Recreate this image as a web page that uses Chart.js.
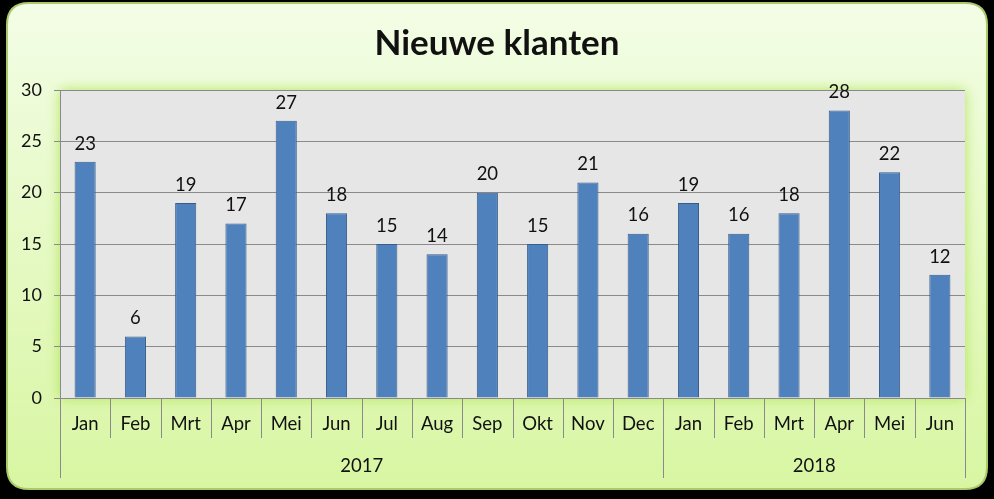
<!DOCTYPE html>
<html>
<head>
<meta charset="utf-8">
<script src="https://cdn.jsdelivr.net/npm/chart.js@4"></script>
<style>
  html, body { margin: 0; padding: 0; background: #000; }
  #wrap { width: 994px; height: 499px; }
</style>
</head>
<body>
<div id="wrap"><canvas id="chart" width="994" height="499"></canvas></div>
<script>
// data
var months = ['Jan','Feb','Mrt','Apr','Mei','Jun','Jul','Aug','Sep','Okt','Nov','Dec',
              'Jan','Feb','Mrt','Apr','Mei','Jun'];
var years = ['2017', '2018'];
var yearCounts = [12, 6];
var klanten = [23, 6, 19, 17, 27, 18, 15, 14, 20, 15, 21, 16,
               19, 16, 18, 28, 22, 12];
var yTicks = [0, 5, 10, 15, 20, 25, 30];
var titel = 'Nieuwe klanten';

var FONT = 'Lato, "Open Sans", sans-serif';

function roundRect(ctx, x, y, w, h, r) {
	ctx.beginPath();
	ctx.moveTo(x + r, y);
	ctx.lineTo(x + w - r, y);
	ctx.quadraticCurveTo(x + w, y, x + w, y + r);
	ctx.lineTo(x + w, y + h - r);
	ctx.quadraticCurveTo(x + w, y + h, x + w - r, y + h);
	ctx.lineTo(x + r, y + h);
	ctx.quadraticCurveTo(x, y + h, x, y + h - r);
	ctx.lineTo(x, y + r);
	ctx.quadraticCurveTo(x, y, x + r, y);
	ctx.closePath();
}

// card background + grey plot area with green glow
var backgroundPlugin = {
	id: 'cardBg',
	beforeDraw: function(chart) {
		var ctx = chart.ctx;
		var a = chart.chartArea;
		ctx.save();
		ctx.fillStyle = '#000';
		ctx.fillRect(0, 0, chart.width, chart.height);
		var g = ctx.createLinearGradient(0, 3, 0, 490);
		g.addColorStop(0, '#f3fde6');
		g.addColorStop(1, '#d8f6a2');
		roundRect(ctx, 7, 3, 980, 486, 22);
		ctx.fillStyle = g;
		ctx.fill();
		ctx.lineWidth = 2;
		ctx.strokeStyle = '#a9c96a';
		ctx.stroke();

		ctx.shadowColor = 'rgba(170,225,80,0.9)';
		ctx.shadowBlur = 12;
		ctx.fillStyle = '#e6e6e6';
		ctx.fillRect(a.left, a.top, a.right - a.left, a.bottom - a.top);
		ctx.restore();
	}
};

// title, value labels, category separators and year row
var labelsPlugin = {
	id: 'extraLabels',
	afterDraw: function(chart) {
		var ctx = chart.ctx;
		var a = chart.chartArea;
		var meta = chart.getDatasetMeta(0);
		ctx.save();
		ctx.fillStyle = '#111';
		ctx.textAlign = 'center';
		ctx.textBaseline = 'middle';
		ctx.font = 'bold 35px ' + FONT;
		ctx.fillText(titel, 497, 44);

		ctx.font = '18.5px ' + FONT;
		ctx.textBaseline = 'bottom';
		meta.data.forEach(function(bar, i) {
			ctx.fillText(String(klanten[i]), bar.x, bar.y - 9);
		});

		var step = (a.right - a.left) / months.length;
		ctx.strokeStyle = '#8a8a8a';
		ctx.lineWidth = 1;
		var idx = 0;
		var bounds = [0];
		yearCounts.forEach(function(c) { idx += c; bounds.push(idx); });
		for (var i = 0; i <= months.length; i++) {
			var x = Math.round(a.left + i * step) + 0.5;
			var long = bounds.indexOf(i) >= 0;
			ctx.beginPath();
			ctx.moveTo(x, a.bottom);
			ctx.lineTo(x, long ? a.bottom + 80 : a.bottom + 40);
			ctx.stroke();
		}

		ctx.textBaseline = 'middle';
		for (var j = 0; j < years.length; j++) {
			var cx = a.left + (bounds[j] + bounds[j + 1]) / 2 * step;
			ctx.fillText(years[j], cx, a.bottom + 68);
		}
		ctx.restore();
	}
};

var ctx = document.getElementById('chart').getContext('2d');
var config = {
	type: 'bar',
	data: {
		labels: months,
		datasets: [{
			label: titel,
			data: klanten,
			backgroundColor: '#4f81bd',
			borderColor: '#385d8a',
			borderWidth: 1,
			categoryPercentage: 1,
			barPercentage: 0.42
		}]
	},
	options: {
		responsive: false,
		animation: false,
		layout: { padding: { left: 0, right: 29, top: 90, bottom: 0 } },
		plugins: {
			legend: { display: false },
			tooltip: { enabled: false },
			title: { display: false }
		},
		scales: {
			x: {
				grid: { display: false, drawTicks: false },
				border: { display: true, color: '#8a8a8a' },
				ticks: {
					color: '#111',
					padding: 15,
					font: { family: FONT, size: 18.5 }
				},
				afterFit: function(scale) { scale.height = 101; }
			},
			y: {
				min: 0,
				max: 30,
				afterBuildTicks: function(scale) {
					scale.ticks = yTicks.map(function(v) { return { value: v }; });
				},
				grid: { color: '#8a8a8a', tickLength: 6 },
				border: { display: true, color: '#8a8a8a' },
				ticks: {
					color: '#111',
					padding: 12,
					font: { family: FONT, size: 18 }
				},
				afterFit: function(scale) { scale.width = 60; }
			}
		}
	},
	plugins: [backgroundPlugin, labelsPlugin]
};
var barChart = new Chart(ctx, config);
</script>
</body>
</html>
